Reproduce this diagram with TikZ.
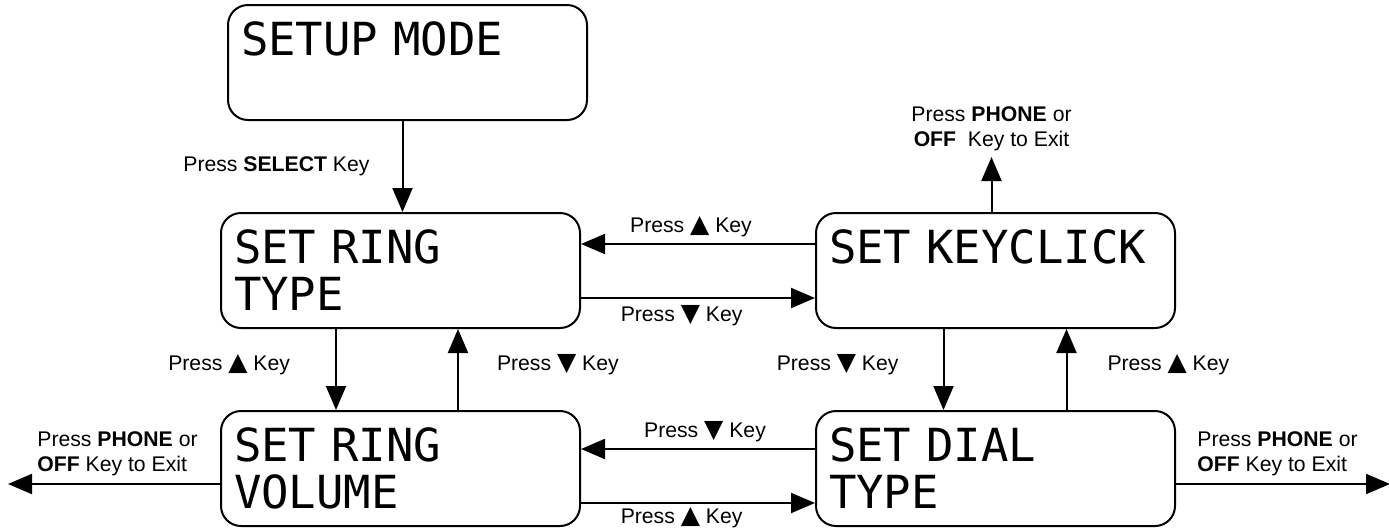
\documentclass[tikz,border=0pt]{standalone}
\usepackage{fontspec}
\setmainfont{Liberation Sans}
\newfontfamily\lcdfont{DejaVu Sans Mono}
\newfontfamily\symfont{DejaVu Sans}
\newcommand{\upkey}{{\symfont\fontsize{12.5}{12.5}\selectfont ▲}}
\newcommand{\downkey}{{\symfont\fontsize{12.5}{12.5}\selectfont ▼}}
\usetikzlibrary{arrows.meta,positioning}

\begin{document}
\begin{tikzpicture}[x=0.5pt, y=-0.5pt,
    lcd/.style={rounded corners=10pt, draw, line width=1pt, align=left, text width=166.5pt, inner xsep=6.5pt, minimum height=57.5pt, font=\lcdfont\fontsize{22.8}{23.5}\selectfont},
    lbl/.style={inner sep=0pt, font=\fontsize{10.6}{12.5}\selectfont},
    arrow/.style={-{Triangle[length=12pt, width=10pt]}, line width=1pt}
]
\useasboundingbox (0,0) rectangle (1389,527);

\node[lcd, anchor=north west] (ringtype) at (220,212) {SET RING\\TYPE};
\node[lcd, above=45.5pt of ringtype, xshift=3.5pt] (setup) {SETUP MODE\\~};
\node[lcd, right=117pt of ringtype] (keyclick) {SET KEYCLICK\\~};
\node[lcd, below=40.5pt of ringtype] (volume) {SET RING\\VOLUME};
\node[lcd, right=117pt of volume] (dial) {SET DIAL\\TYPE};

\coordinate (clickexit) at ([xshift=-2pt, yshift=27.5pt]keyclick.north);
\coordinate (volexit) at ([xshift=-106pt, yshift=-7.75pt]volume.west);
\coordinate (dialexit) at ([xshift=107pt, yshift=-7.75pt]dial.east);

\draw[arrow] ([xshift=-2.5pt]setup.south) -- node[lbl, left=16pt] {Press \textbf{SELECT} Key} ([xshift=-2.5pt]setup.south |- ringtype.north);

\draw[arrow] ([yshift=13.25pt]keyclick.west) -- node[lbl, above=3pt, pos=0.53] {Press \upkey\ Key} ([yshift=13.25pt]ringtype.east);
\draw[arrow] ([yshift=-13.75pt]ringtype.east) -- node[lbl, below=3pt, pos=0.43] {Press \downkey\ Key} ([yshift=-13.75pt]keyclick.west);

\draw[arrow] ([xshift=-32.25pt]ringtype.south) -- node[lbl, left=22.5pt, yshift=2.5pt] {Press \upkey\ Key} ([xshift=-32.25pt]volume.north);
\draw[arrow] ([xshift=28.75pt]volume.north) -- node[lbl, right=19pt, yshift=2.5pt] {Press \downkey\ Key} ([xshift=28.75pt]ringtype.south);
\draw[arrow] ([xshift=-26pt]keyclick.south) -- node[lbl, left=22pt, yshift=2.5pt] {Press \downkey\ Key} ([xshift=-26pt]dial.north);
\draw[arrow] ([xshift=35.5pt]dial.north) -- node[lbl, right=20pt, yshift=2.5pt] {Press \upkey\ Key} ([xshift=35.5pt]keyclick.south);

\draw[arrow] ([yshift=9.75pt]dial.west) -- node[lbl, above=3pt, pos=0.47] {Press \downkey\ Key} ([yshift=9.75pt]volume.east);
\draw[arrow] ([yshift=-17.25pt]volume.east) -- node[lbl, below=1.5pt, pos=0.43] {Press \upkey\ Key} ([yshift=-17.25pt]dial.west);

\draw[arrow] ([xshift=-2pt]keyclick.north) -- (clickexit);
\node[lbl, align=center, above=3pt of clickexit] (clicklbl) {Press \textbf{PHONE} or\\\textbf{OFF}\ \ Key to Exit};

\draw[arrow] ([yshift=-7.75pt]volume.west) -- (volexit);
\node[lbl, align=left, above right=4pt and 14.5pt of volexit] (vollbl) {Press \textbf{PHONE} or\\\textbf{OFF} Key to Exit};

\draw[arrow] ([yshift=-7.75pt]dial.east) -- (dialexit);
\node[lbl, align=left, above left=4pt and 16pt of dialexit] (diallbl) {Press \textbf{PHONE} or\\\textbf{OFF} Key to Exit};
\end{tikzpicture}
\end{document}
